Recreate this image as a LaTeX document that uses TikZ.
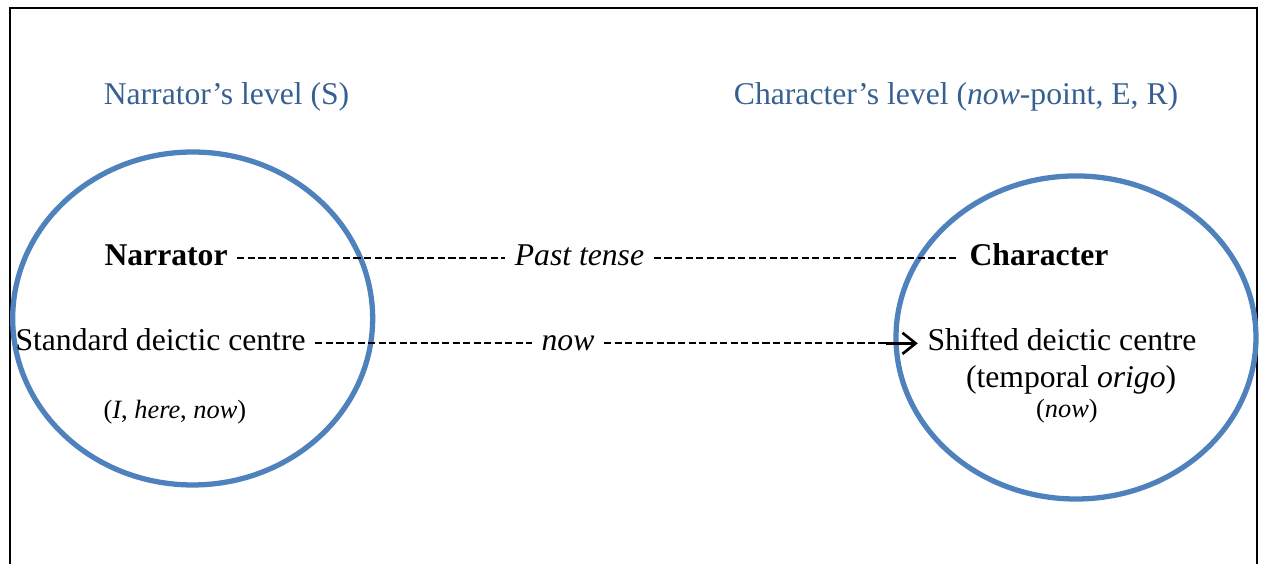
\documentclass[tikz,border=0pt]{standalone}
\usepackage{fontspec}
\setmainfont{Liberation Serif}[
  ItalicFont={Liberation Serif Italic},
  BoldFont={Liberation Serif Bold},
  BoldItalicFont={Liberation Serif Bold Italic}]
\usetikzlibrary{arrows.meta,positioning}
\definecolor{ringblue}{HTML}{4F81BD}
\definecolor{levelblue}{HTML}{376092}
\tikzset{
  rowtext/.style={inner xsep=3.5pt, inner ysep=0pt, text height=1.1ex, text depth=0pt},
  dashline/.style={line width=0.75pt, dash pattern=on 2.7pt off 1.3pt},
  ring/.style={ringblue, line width=2pt},
  smalltext/.style={font=\fontsize{10}{12}\selectfont}
}

\begin{document}
\begin{tikzpicture}[font=\fontsize{12}{14}\selectfont]
\useasboundingbox (0,0) rectangle (16.8,7.514);
%draw frame
\draw [line width=0.8pt] (0.13,0) |- (16.75,7.41) -- (16.75,0);
%draw the two levels
\draw [ring] (2.567,3.271) ellipse [x radius=2.398, y radius=2.218];
\draw [ring] (14.335,3.018) ellipse [x radius=2.398, y radius=2.152];
% level titles
\node [levelblue, anchor=base] (narrlevel) at (3.018,6.128) {Narrator’s level (S)};
\node [levelblue, anchor=base] (charlevel) at (12.737,6.128) {Character’s level (\textit{now}-point, E, R)};
% first row : Narrator -- Past tense -- Character
\node [rowtext, anchor=base west] (narr) at (1.263,3.983) {\textbf{Narrator}};
\node [rowtext, anchor=base] (past) at (7.72,3.983) {\textit{Past tense}};
\node [rowtext, anchor=base west] (char) at (12.787,3.983) {\textbf{Character}};
\draw [dashline] (narr.east) -- (past.west);
\draw [dashline] (past.east) -- (char.west);
% second row : standard -- now --> shifted
\node [rowtext, anchor=base west] (std) at (0.077,2.851) {Standard deictic centre};
\node [rowtext, anchor=base] (now) at (7.567,2.851) {\textit{now}};
\node [rowtext, anchor=base west] (shift) at (12.227,2.851) {Shifted deictic centre};
\draw [dashline] (std.east) -- (now.west);
\draw [dashline] (now.east) -- ([xshift=-0.42cm]shift.west);
\draw [-{Straight Barb[length=5pt,width=8pt]}, line width=1pt] ([xshift=-0.42cm]shift.west) -- (shift.west);
% notes under the centres
\node [smalltext, anchor=base] (ihn) at (2.33,1.932) {(\textit{I}, \textit{here}, \textit{now})};
\node [anchor=base] (origo) at (14.27,2.358) {(temporal \textit{origo})};
\node [smalltext, anchor=base] (nownote) at (14.215,1.958) {(\textit{now})};
\end{tikzpicture}
\end{document}
